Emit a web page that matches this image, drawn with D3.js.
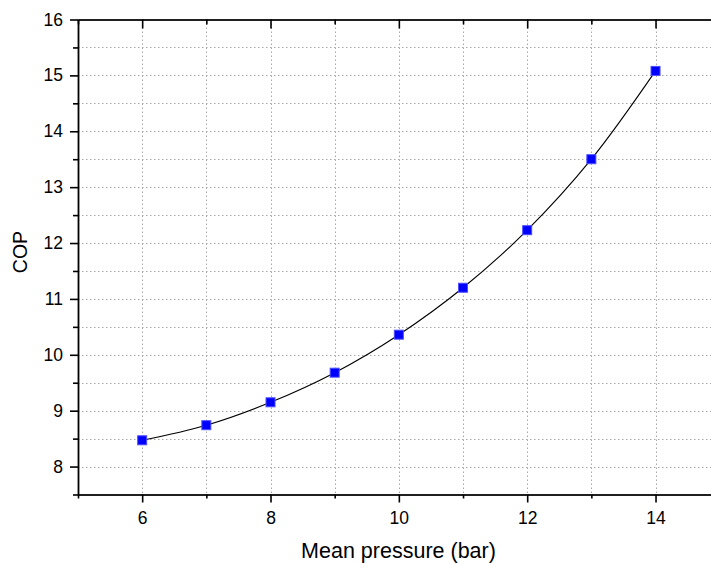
<!DOCTYPE html>
<html lang="en">
<head>
    <meta charset="UTF-8">
    <title>COP vs mean pressure</title>
    <style>
        body { margin: 0; background: #fff; }
        svg { display: block; font-family: "Liberation Sans", Arial, sans-serif; }
        .grid line { stroke: #a8a8a8; stroke-width: 1; stroke-dasharray: 1.5 2.5; }
        .axis path, .axis line { stroke: #000; }
        .axis text { font-size: 17.5px; fill: #000; }
    </style>
</head>
<body>
    <script src="https://d3js.org/d3.v7.min.js"></script>
    <script>
        // mean pressure (bar) and measured COP
        const pressure = [6, 7, 8, 9, 10, 11, 12, 13, 14];
        const cop = [8.47, 8.74, 9.15, 9.68, 10.36, 11.2, 12.23, 13.5, 15.08];
        const xTicks = [6, 8, 10, 12, 14];
        const xMinor = [5, 7, 9, 11, 13, 15];
        const yTicks = [8, 9, 10, 11, 12, 13, 14, 15, 16];
        const yMinor = [7.5, 8.5, 9.5, 10.5, 11.5, 12.5, 13.5, 14.5, 15.5];

        const w = 711, h = 564;
        const padLeft = 78, padTop = 19.5, padBottom = 494.5;

        const x = d3.scaleLinear().domain([5, 15]).range([padLeft, padLeft + 641.7]);
        const y = d3.scaleLinear().domain([7.5, 16]).range([padBottom, padTop]);

        const svg = d3.select("body").append("svg")
            .attr("width", w)
            .attr("height", h);

        // dotted grid
        const grid = svg.append("g").attr("class", "grid");
        grid.selectAll(".gx")
            .data([6, 7, 8, 9, 10, 11, 12, 13, 14])
            .enter().append("line")
            .attr("x1", d => Math.round(x(d)) + 0.5).attr("x2", d => Math.round(x(d)) + 0.5)
            .attr("y1", padTop).attr("y2", padBottom);
        grid.selectAll(".gy")
            .data(yTicks.concat(yMinor).filter(d => d > 7.5 && d < 16))
            .enter().append("line")
            .attr("y1", d => Math.round(y(d)) + 0.5).attr("y2", d => Math.round(y(d)) + 0.5)
            .attr("x1", padLeft).attr("x2", w);

        // bottom axis
        svg.append("g").attr("class", "axis")
            .attr("transform", "translate(0," + padBottom + ")")
            .call(d3.axisBottom(x).tickValues(xTicks).tickSize(8).tickPadding(9).tickSizeOuter(0))
            .call(g => g.selectAll("line").attr("stroke-width", 1.6));
        svg.append("g").attr("class", "axis")
            .attr("transform", "translate(0," + padBottom + ")")
            .call(d3.axisBottom(x).tickValues(xMinor).tickSize(4).tickFormat("").tickSizeOuter(0))
            .call(g => g.select("path").attr("stroke-width", 1.6))
            .call(g => g.selectAll("line").attr("stroke-width", 1.6));

        // top axis, ticks inward
        svg.append("g").attr("class", "axis")
            .attr("transform", "translate(0," + padTop + ")")
            .call(d3.axisBottom(x).tickValues(xTicks).tickSize(9).tickFormat("").tickSizeOuter(0))
            .call(g => g.selectAll("line").attr("stroke-width", 1.6));
        svg.append("g").attr("class", "axis")
            .attr("transform", "translate(0," + padTop + ")")
            .call(d3.axisBottom(x).tickValues(xMinor).tickSize(5).tickFormat("").tickSizeOuter(0))
            .call(g => g.select("path").attr("stroke-width", 1.6))
            .call(g => g.selectAll("line").attr("stroke-width", 1.6));

        // left axis
        svg.append("g").attr("class", "axis")
            .attr("transform", "translate(" + padLeft + ",0)")
            .call(d3.axisLeft(y).tickValues(yTicks).tickSize(8).tickPadding(7).tickSizeOuter(0))
            .call(g => g.selectAll("line").attr("stroke-width", 1.6));
        svg.append("g").attr("class", "axis")
            .attr("transform", "translate(" + padLeft + ",0)")
            .call(d3.axisLeft(y).tickValues(yMinor).tickSize(5).tickFormat("").tickSizeOuter(0))
            .call(g => g.select("path").attr("stroke-width", 1.8))
            .call(g => g.selectAll("line").attr("stroke-width", 1.6));

        // curve and markers
        const pts = pressure.map((p, i) => [p, cop[i]]);
        svg.append("path")
            .datum(pts)
            .attr("fill", "none")
            .attr("stroke", "#000")
            .attr("stroke-width", 1.1)
            .attr("d", d3.line().x(d => x(d[0])).y(d => y(d[1])).curve(d3.curveCatmullRom));

        svg.selectAll(".pt")
            .data(pts)
            .enter().append("rect")
            .attr("class", "pt")
            .attr("x", d => x(d[0]) - 4.5)
            .attr("y", d => y(d[1]) - 4.5)
            .attr("width", 9)
            .attr("height", 9)
            .attr("fill", "#0000ff")
            .attr("stroke", "#4d4dff")
            .attr("stroke-width", 1);

        // axis titles
        svg.append("text")
            .attr("x", 398.5)
            .attr("y", 557.5)
            .attr("text-anchor", "middle")
            .attr("font-size", "21.5px")
            .text("Mean pressure (bar)");

        svg.append("text")
            .attr("transform", "translate(27,252) rotate(-90)")
            .attr("text-anchor", "middle")
            .attr("font-size", "19.5px")
            .text("COP");
    </script>
</body>
</html>
